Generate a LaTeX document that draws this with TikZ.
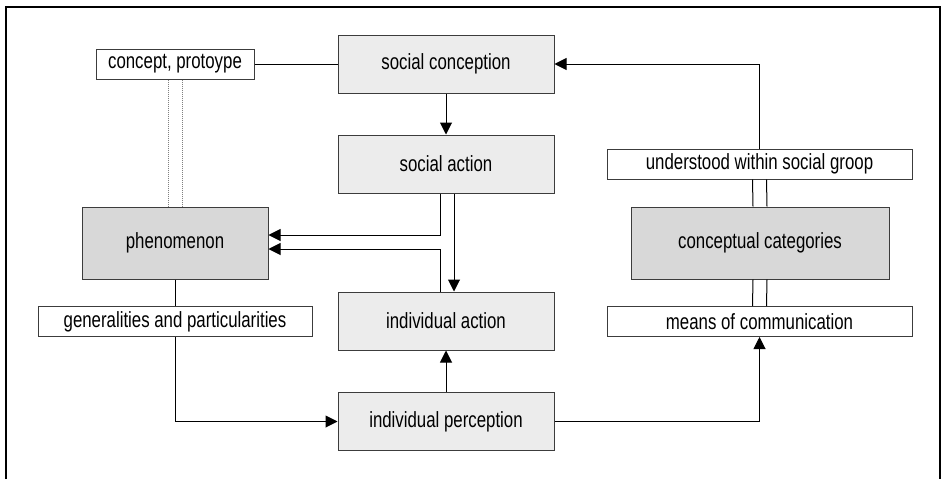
\documentclass[tikz,border=0pt]{standalone}
\usepackage{fontspec}
\setmainfont[FakeStretch=0.765]{Liberation Sans}
\usetikzlibrary{positioning,arrows.meta}
\definecolor{boxLine}{RGB}{60,60,60}
\definecolor{socialFill}{RGB}{236,236,236}
\definecolor{coreFill}{RGB}{216,216,216}
\tikzstyle{diagram} = [x = 1pt, y = -1pt, font=\fontsize{22}{26}\selectfont, line width=1pt]
\tikzstyle{baseBox} = [draw=boxLine, inner sep=0pt, align=center]
\tikzstyle{socialBox} = [baseBox, fill=socialFill, minimum width=216pt, minimum height=58pt]
\tikzstyle{coreBox} = [baseBox, fill=coreFill, minimum height=72pt]
\tikzstyle{labelBox} = [baseBox, fill=white, minimum height=30pt]
\tikzstyle{arrowLine} = [-{Triangle[length=12pt, width=12pt]}]
\tikzstyle{dotLink} = [color=gray, densely dotted]
\tikzstyle{frameLine} = [line width=2pt]

\begin{document}
\begin{tikzpicture}[diagram]
  \useasboundingbox (0,0) rectangle (944,479);
  \draw [frameLine] (6,479) -- (6,7) -- (940,7) -- (940,479);

  \node [socialBox] (socConc) at (446,64) {social conception};
  \node [socialBox] (socAct) at (446,164) {social action};
  \node [socialBox] (indAct) at (446,321) {individual action};
  \node [socialBox] (indPerc) at (446,421.5) {individual perception};
  \node [coreBox, minimum width=186pt] (phen) at (175,243) {phenomenon};
  \node [coreBox, minimum width=258pt] (concCat) at (760,243) {conceptual categories};
  \node [labelBox, minimum width=158pt] (concept) at (175,64) {concept, protoype};
  \node [labelBox, minimum width=274pt] (general) at (175,321.5) {generalities and particularities};
  \node [labelBox, minimum width=305pt] (understood) at (759.5,164) {understood within social groop};
  \node [labelBox, minimum width=305pt] (means) at (759.5,321.5) {means of communication};

  \draw (concept) -- (socConc);
  \draw [arrowLine] (socConc) -- (socAct);
  \draw [arrowLine] (understood.north) |- (socConc.east);
  \foreach \off in {-7,7} {
    \draw ([xshift=\off pt]understood.south) -- ([xshift=\off pt]concCat.north);
    \draw ([xshift=\off pt]concCat.south) -- ([xshift=\off pt]means.north);
    \draw [dotLink] ([xshift=\off pt]concept.south) -- ([xshift=\off pt]phen.north);
  }
  \draw (phen) -- (general);
  \draw [arrowLine] (general.south) |- (indPerc.west);
  \draw [arrowLine] (indPerc) -- (indAct);
  \draw [arrowLine] (indPerc.east) -| (means.south);
  \draw [arrowLine] ([xshift=-6pt]socAct.south) |- ([yshift=8pt]phen.east);
  \draw [arrowLine] ([xshift=8pt]socAct.south) -- ([xshift=8pt]indAct.north);
  \draw [arrowLine] ([xshift=-6pt]indAct.north) |- ([yshift=-6pt]phen.east);
\end{tikzpicture}
\end{document}
